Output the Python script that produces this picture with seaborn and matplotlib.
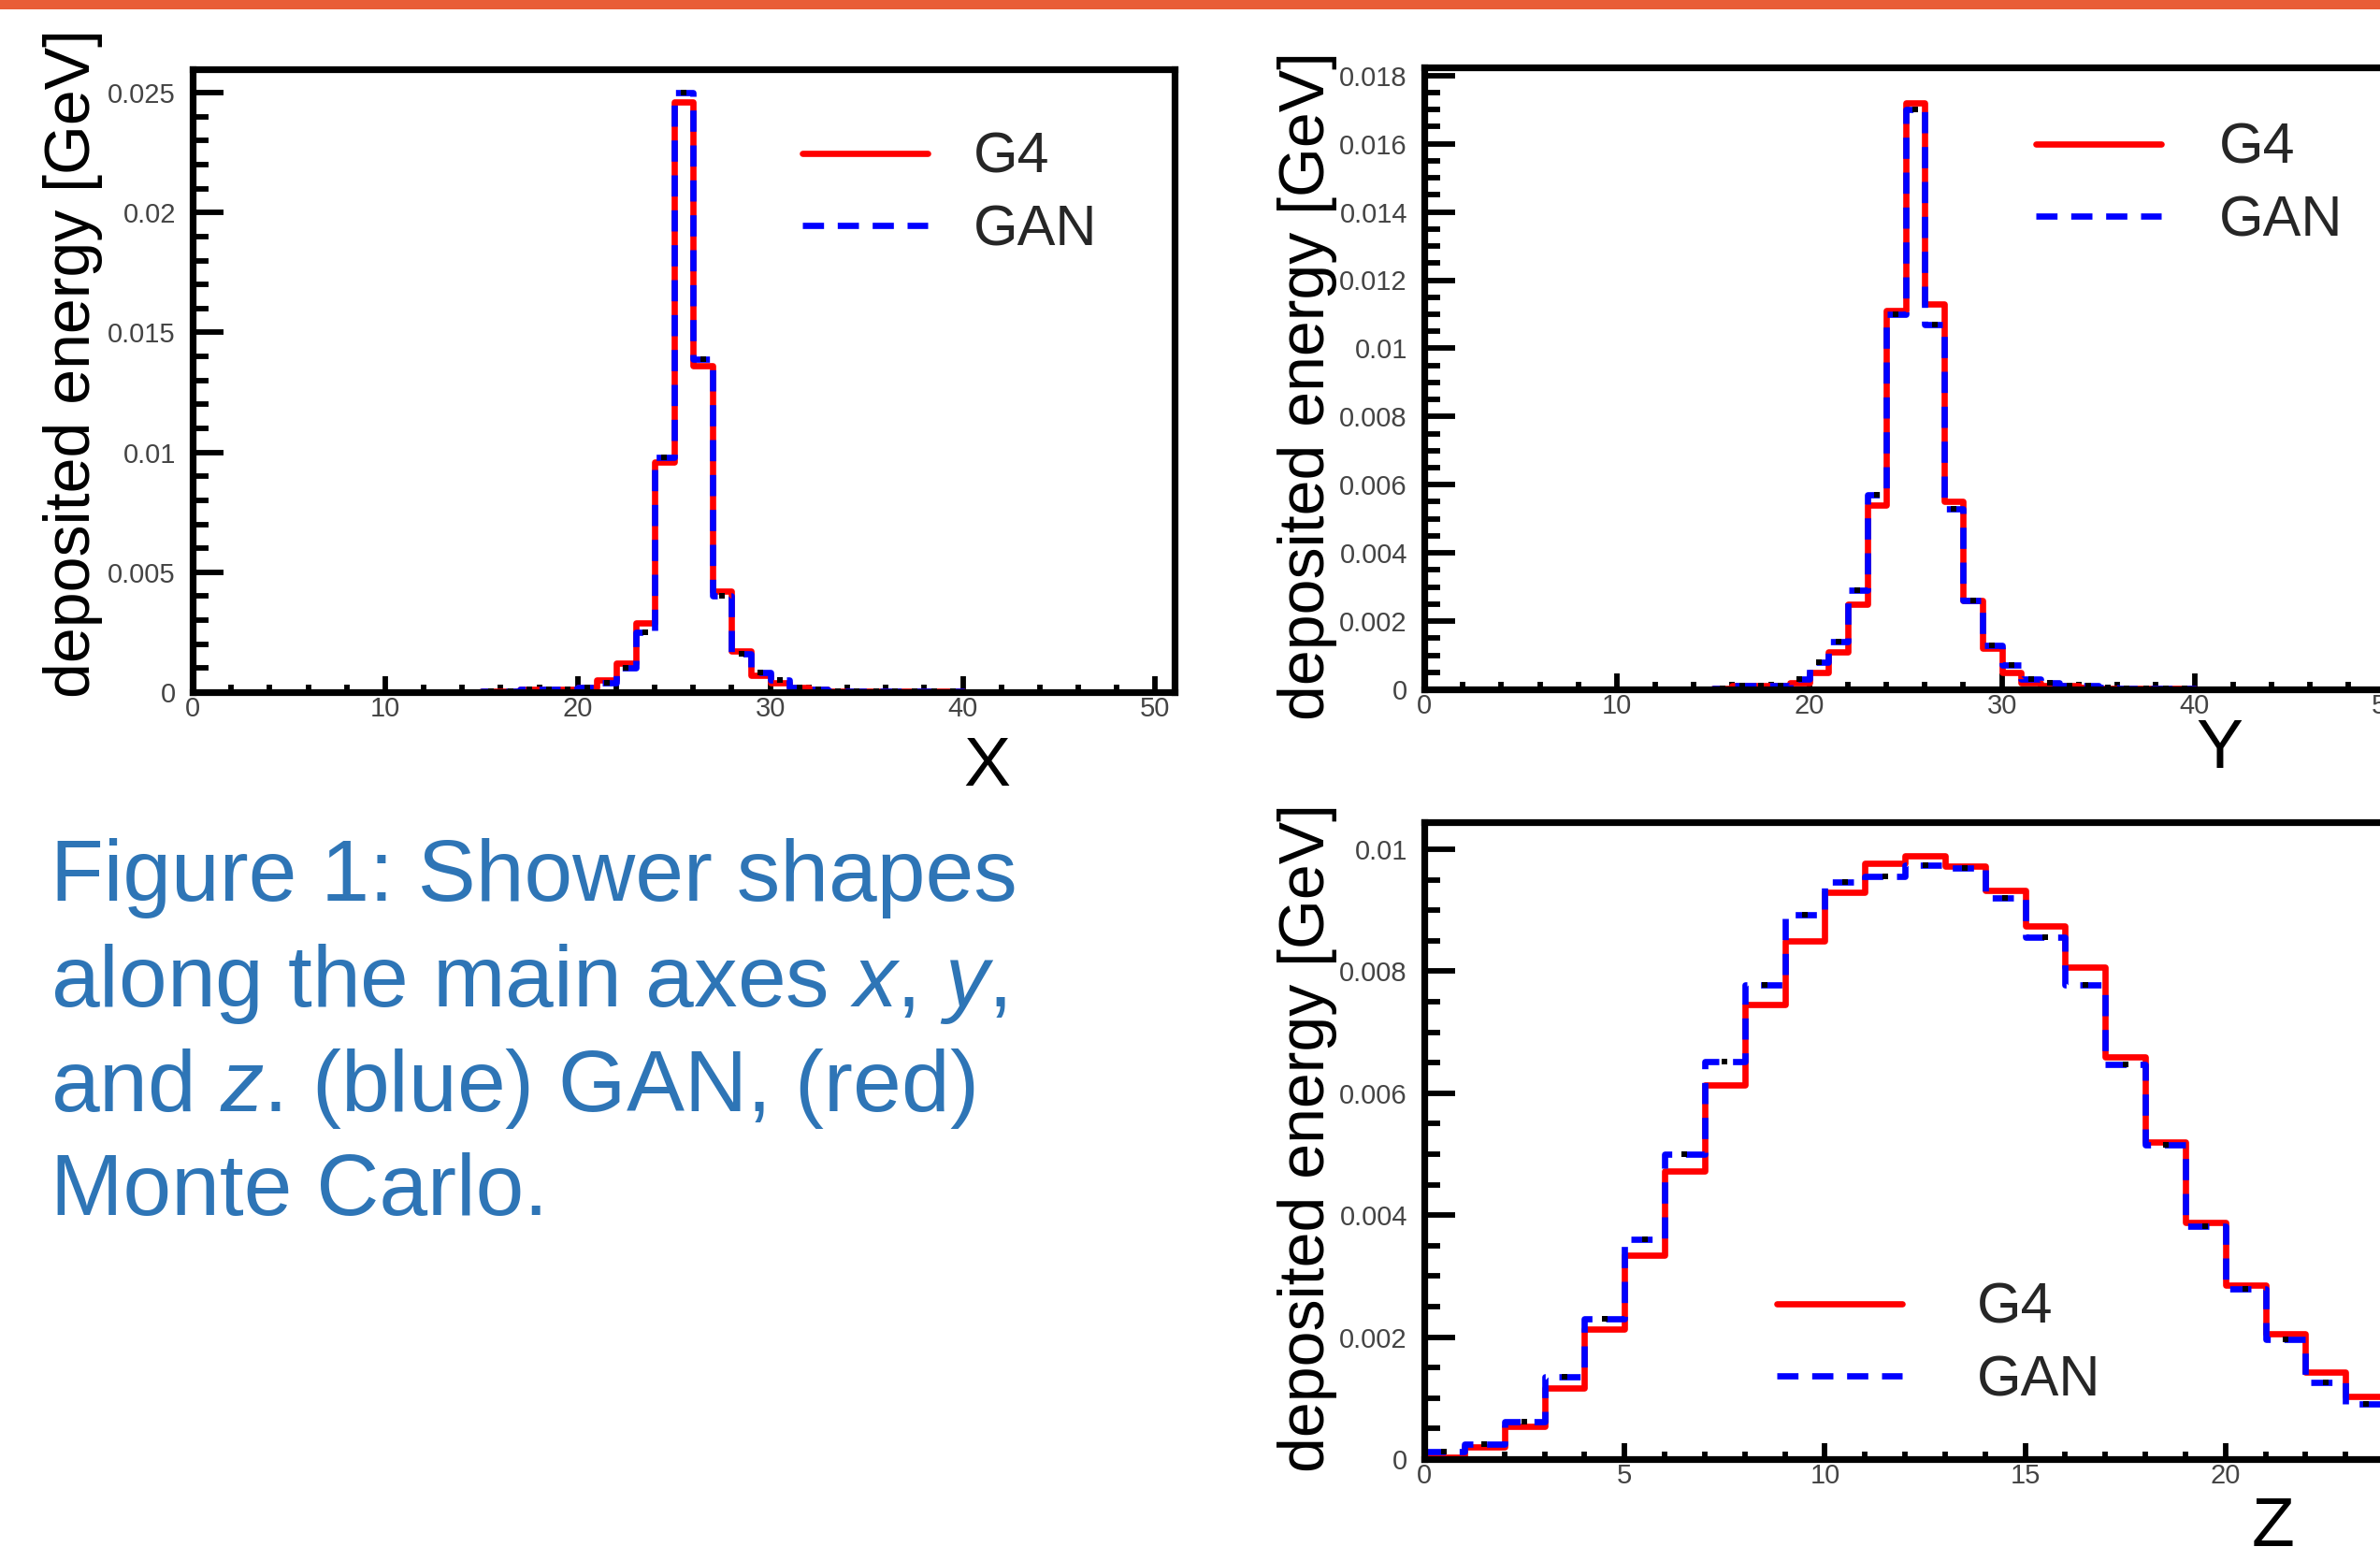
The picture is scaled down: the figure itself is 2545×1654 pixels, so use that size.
import matplotlib
matplotlib.use('Agg')
import matplotlib.pyplot as plt
from matplotlib.ticker import MultipleLocator, FuncFormatter
from matplotlib.patches import Rectangle
import numpy as np
import pandas as pd
import seaborn as sns

# deposited energy per cell [GeV]
# shower profile along x (51 cells)
x_g4 = [0, 0, 0, 0, 0, 0, 0, 0, 0, 0,
        0, 0, 0, 0, 0, 0.00003, 0.00003, 0.0001, 0.0001, 0.0001,
        0.0002, 0.0005, 0.0012, 0.0029, 0.0096, 0.0246, 0.0136, 0.0042, 0.0017, 0.0007,
        0.0004, 0.0002, 0.0001, 0.00005, 0.00005, 0.00005, 0.00002, 0.00002, 0.00002, 0.00002,
        0, 0, 0, 0, 0, 0, 0, 0, 0, 0, 0]
x_gan = [0, 0, 0, 0, 0, 0, 0, 0, 0, 0,
         0, 0, 0, 0, 0, 0.00003, 0.00003, 0.0001, 0.0001, 0.0001,
         0.0002, 0.0004, 0.0010, 0.0025, 0.0098, 0.0250, 0.0139, 0.0040, 0.0016, 0.0008,
         0.0005, 0.0002, 0.0001, 0.00005, 0.00005, 0.00005, 0.00002, 0.00002, 0.00002, 0.00002,
         0, 0, 0, 0, 0, 0, 0, 0, 0, 0, 0]

# shower profile along y (51 cells)
y_g4 = [0, 0, 0, 0, 0, 0, 0, 0, 0, 0,
        0, 0, 0, 0, 0, 0.00003, 0.0001, 0.0001, 0.0001, 0.0002,
        0.0005, 0.0011, 0.0025, 0.0054, 0.0111, 0.0172, 0.0113, 0.0055, 0.0026, 0.0012,
        0.0005, 0.0002, 0.0001, 0.0001, 0.00005, 0.00003, 0.00002, 0.00002, 0.00002, 0.00002,
        0, 0, 0, 0, 0, 0, 0, 0, 0, 0, 0]
y_gan = [0, 0, 0, 0, 0, 0, 0, 0, 0, 0,
         0, 0, 0, 0, 0, 0.00003, 0.0001, 0.0001, 0.0001, 0.0003,
         0.0008, 0.0014, 0.0029, 0.0057, 0.0110, 0.0170, 0.0107, 0.0053, 0.0026, 0.0013,
         0.0007, 0.0003, 0.0002, 0.0001, 0.0001, 0.00005, 0.00002, 0.00002, 0.00002, 0.00002,
         0, 0, 0, 0, 0, 0, 0, 0, 0, 0, 0]

# shower profile along z (25 layers)
z_g4 = [0.00003, 0.0002, 0.00053, 0.00117, 0.00213, 0.00335, 0.00473, 0.00614, 0.00745, 0.0085,
        0.0093, 0.00977, 0.00989, 0.00972, 0.00932, 0.00874, 0.00806, 0.0066, 0.0052, 0.00388,
        0.00285, 0.00205, 0.00143, 0.00103, 0.0007]
z_gan = [0.00012, 0.00024, 0.00062, 0.00135, 0.0023, 0.0036, 0.005, 0.00652, 0.00777, 0.00892,
         0.00946, 0.00956, 0.00974, 0.0097, 0.0092, 0.00856, 0.00778, 0.00647, 0.00515, 0.00382,
         0.00279, 0.00197, 0.00126, 0.00091, 0.00065]

legend_labels = ['G4', 'GAN']
ylabel = 'deposited energy [GeV]'
caption = ['Figure 1: Shower shapes',
           'along the main axes $x$, $y$,',
           'and $z$. (blue) GAN, (red)',
           'Monte Carlo.']

sns.set_style('white')
plt.rcParams['font.family'] = ['Liberation Sans', 'DejaVu Sans']
plt.rcParams['mathtext.fontset'] = 'custom'
plt.rcParams['mathtext.rm'] = 'Liberation Sans'
plt.rcParams['mathtext.it'] = 'Liberation Sans:italic'

W, H = 2545, 1654
fig = plt.figure(figsize=(W / 100, H / 100), dpi=100)
fig.patch.set_facecolor('white')


def px_rect(left, top, right, bottom):
    return [left / W, 1 - bottom / H, (right - left) / W, (bottom - top) / H]


def shower(ax, g4, gan, xmax, ymax, ymaj, ymin, xmaj, xmin, xlen_maj, xlen_min):
    n = len(g4)
    df = pd.DataFrame({'cell': np.arange(n) + 0.5, 'g4': g4, 'gan': gan})
    sns.histplot(data=df, x='cell', weights='g4', binwidth=1, binrange=(0, n),
                 element='step', fill=False, color='#ff0000', linewidth=4.8, ax=ax)
    red = ax.lines[-1]
    sns.histplot(data=df, x='cell', weights='gan', binwidth=1, binrange=(0, n),
                 element='step', fill=False, color='#0000ff', linewidth=4.8,
                 linestyle=(0, (3.4, 2.2)), ax=ax)
    blue = ax.lines[-1]
    sns.scatterplot(data=df, x='cell', y='gan', marker='s', color='black', s=24,
                    linewidth=0, ax=ax, zorder=5)
    ax.set_xlim(0, xmax)
    ax.set_ylim(0, ymax)
    ax.set_xlabel('')
    ax.set_ylabel('')
    for sp in ax.spines.values():
        sp.set_visible(True)
        sp.set_linewidth(5.2)
        sp.set_color('black')
    ax.yaxis.set_major_locator(MultipleLocator(ymaj))
    ax.yaxis.set_minor_locator(MultipleLocator(ymin))
    ax.xaxis.set_major_locator(MultipleLocator(xmaj))
    ax.xaxis.set_minor_locator(MultipleLocator(xmin))
    fmt = FuncFormatter(lambda v, p: f'{v:g}')
    ax.yaxis.set_major_formatter(fmt)
    ax.xaxis.set_major_formatter(fmt)
    ax.tick_params(which='both', direction='in', top=False, right=False,
                   left=True, bottom=True, width=4.2, color='black',
                   labelsize=21, labelcolor='#444444')
    ax.tick_params(axis='y', which='major', length=24, pad=13)
    ax.tick_params(axis='y', which='minor', length=12)
    ax.tick_params(axis='x', which='major', length=xlen_maj, pad=3)
    ax.tick_params(axis='x', which='minor', length=xlen_min)
    ax.set_facecolor('white')
    return red, blue


# x profile
ax1 = fig.add_axes(px_rect(206, 74, 1256, 740))
h1 = shower(ax1, x_g4, x_gan, 51, 0.02598, 0.005, 0.001, 10, 2, 12, 6)
# y profile (runs past the right edge like the slide)
ax2 = fig.add_axes(px_rect(1523, 72, 2573, 737))
h2 = shower(ax2, y_g4, y_gan, 51, 0.01824, 0.002, 0.0005, 10, 2, 12, 6)
# z profile
ax3 = fig.add_axes(px_rect(1523, 879, 1523 + 1071, 1560))
h3 = shower(ax3, z_g4, z_gan, 25, 0.010445, 0.002, 0.0005, 5, 1, 12, 6)

legend_spots = [(ax1, h1, 858, 208, 0.8), (ax2, h2, 2177, 198, 1.0), (ax3, h3, 1900, 1438, 1.3)]
for ax, handles, lx, ly, tpad in legend_spots:
    ax.legend(handles=list(handles), labels=legend_labels, loc='center left',
              bbox_to_anchor=(lx / W, 1 - ly / H), bbox_transform=fig.transFigure,
              frameon=False, fontsize=44, handlelength=2.2, handletextpad=tpad,
              labelspacing=0.33, borderpad=0, borderaxespad=0)

# axis titles, placed as on the slide
for cx, cy in [(78, 389), (1398, 413), (1398, 1216)]:
    fig.text(cx / W, 1 - cy / H, ylabel, rotation=90, ha='center', va='center',
             fontsize=49, color='black')
for letter, cx, base in [('X', 1055, 840), ('Y', 2373, 821), ('Z', 2431, 1653)]:
    fig.text(cx / W, 1 - base / H, letter, ha='center', va='baseline',
             fontsize=54, color='black')

# caption
for line, base in zip(caption, [963, 1076, 1188, 1299]):
    fig.text(54 / W, 1 - base / H, line, ha='left', va='baseline',
             fontsize=67, color='#2e75b6')

# orange header strip
fig.patches.append(Rectangle((0, 1 - 10 / H), 1, 10 / H, transform=fig.transFigure,
                             facecolor='#e95d37', edgecolor='none', zorder=10))

fig.savefig('out.png', dpi=100)
